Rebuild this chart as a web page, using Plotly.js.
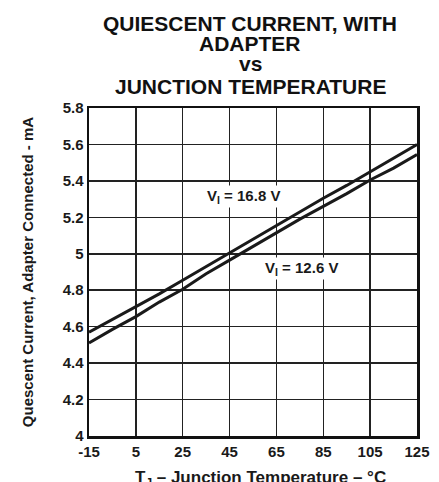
<!DOCTYPE html>
<html>
<head>
<meta charset="utf-8">
<script src="https://cdn.plot.ly/plotly-3.0.1.min.js"></script>
<style>html,body{margin:0;padding:0;background:#fff;}#chart{width:439px;height:482px;}</style>
</head>
<body>
<div id="chart"></div>
<script>
const temperature = [-15, -5, 5, 15, 25, 35, 45, 55, 65, 75, 85, 95, 105, 115, 125];
const current168 = [4.57, 4.64, 4.71, 4.78, 4.855, 4.93, 5.005, 5.08, 5.155, 5.23, 5.305, 5.375, 5.45, 5.525, 5.60];
const current126 = [4.51, 4.585, 4.655, 4.735, 4.805, 4.89, 4.965, 5.04, 5.115, 5.19, 5.26, 5.33, 5.405, 5.47, 5.545];
const xTickVals = [-15, 5, 25, 45, 65, 85, 105, 125];
const xTickText = ['-15', '5', '25', '45', '65', '85', '105', '125'];
const yTickVals = [4, 4.2, 4.4, 4.6, 4.8, 5, 5.2, 5.4, 5.6, 5.8];
const yTickText = ['4', '4.2', '4.4', '4.6', '4.8', '5', '5.2', '5.4', '5.6', '5.8'];
const seriesNames = ['V<sub>I</sub> = 16.8 V', 'V<sub>I</sub> = 12.6 V'];
const titleLines = ['QUIESCENT CURRENT, WITH', 'ADAPTER', 'vs', 'JUNCTION TEMPERATURE'];
const xTitle = 'T<sub>J</sub> \u2013 Junction Temperature \u2013 \u00b0C';
const yTitle = 'Quescent Current, Adapter Connected - mA';

const F = '"Liberation Sans", Arial, sans-serif';
const traces = [
  {x: temperature, y: current168, mode: 'lines', name: seriesNames[0], line: {color: '#1a1a1a', width: 3}},
  {x: temperature, y: current126, mode: 'lines', name: seriesNames[1], line: {color: '#1a1a1a', width: 3}}
];
const titleY = [1.259, 1.198, 1.136, 1.067];
const titleAnns = titleLines.map((t, i) => ({
  x: 0.491, y: titleY[i], xref: 'paper', yref: 'paper', xanchor: 'center', yanchor: 'middle',
  text: '<b>' + t + '</b>', showarrow: false,
  font: {family: F, size: 21, color: '#111'}
}));
const layout = {
  width: 439, height: 482,
  margin: {l: 89, r: 22, t: 108, b: 46},
  paper_bgcolor: '#fff', plot_bgcolor: '#fff',
  showlegend: false,
  font: {family: F, color: '#1a1a1a', weight: 'bold'},
  xaxis: {
    range: [-15, 125], tickvals: xTickVals, ticktext: xTickText,
    showgrid: true, gridcolor: '#222', gridwidth: 1.5,
    showline: true, mirror: true, linecolor: '#111', linewidth: 2.5,
    zeroline: false, ticks: '', ticklen: 0,
    tickfont: {family: F, size: 15, color: '#1a1a1a', weight: 'bold'}
  },
  yaxis: {
    range: [4, 5.8], tickvals: yTickVals, ticktext: yTickText,
    showgrid: true, gridcolor: '#222', gridwidth: 1.5,
    showline: true, mirror: true, linecolor: '#111', linewidth: 2.5,
    zeroline: false, ticks: '', ticklen: 0,
    tickfont: {family: F, size: 15, color: '#1a1a1a', weight: 'bold'},
    title: {text: yTitle, font: {family: F, size: 15, color: '#1a1a1a', weight: 'bold'}, standoff: 26}
  },
  annotations: titleAnns.concat([
    {x: 0.524, y: -0.13, xref: 'paper', yref: 'paper', xanchor: 'center', yanchor: 'middle',
     text: '<b>' + xTitle + '</b>', showarrow: false, font: {family: F, size: 17, color: '#1a1a1a'}},
    {x: 50.8, y: 5.316, xref: 'x', yref: 'y', text: '<b>' + seriesNames[0] + '</b>', showarrow: false,
     font: {family: F, size: 15, color: '#1a1a1a'}, bgcolor: '#fff', borderpad: 1},
    {x: 75.6, y: 4.92, xref: 'x', yref: 'y', text: '<b>' + seriesNames[1] + '</b>', showarrow: false,
     font: {family: F, size: 15, color: '#1a1a1a'}, bgcolor: '#fff', borderpad: 1}
  ])
};
Plotly.newPlot('chart', traces, layout, {displayModeBar: false, staticPlot: true});
</script>
</body>
</html>
